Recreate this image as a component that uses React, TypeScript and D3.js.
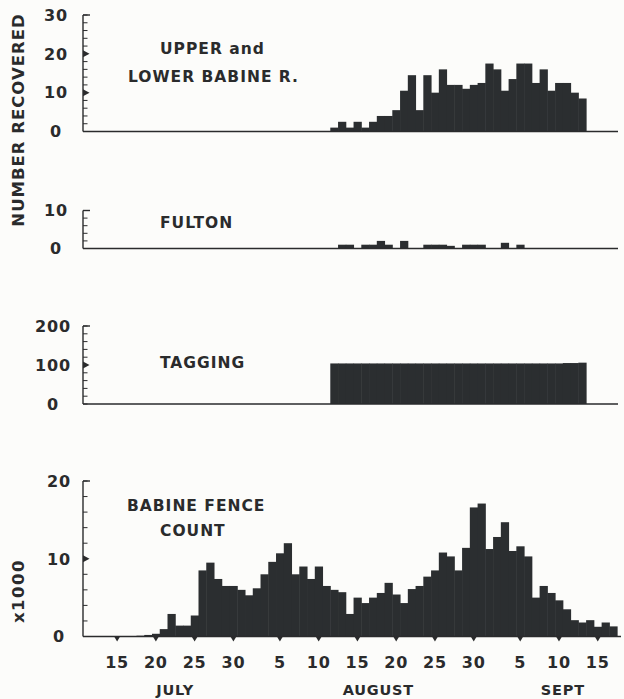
import React from "react";
import * as d3 from "d3";

const width = 624;
const height = 699;

// day numbers: 1 = July 1, 32 = Aug 1, 63 = Sept 1
const recoveryStart = 43; // Aug 12
const upperLowerBabine = [
  1, 2.5, 1, 2.5, 1, 2.5, 4, 4, 5.5, 10.5, 14.5, 5.5, 14.5, 10, 16, 12, 12,
  11, 12, 12.5, 17.5, 16, 10.5, 13.5, 17.5, 17.5, 12.5, 16, 10.5, 12.5, 12.5,
  10, 8.5,
];
const fulton = [
  0, 1, 1, 0, 1, 1, 2, 1, 0, 2, 0, 0, 1, 1, 1, 0.7, 0, 1, 1, 1, 0, 0, 1.5, 0,
  1, 0, 0, 0, 0, 0, 0, 0, 0,
];
const tagging = [
  104, 104, 104, 104, 104, 104, 104, 104, 104, 104, 104, 104, 104, 104, 104,
  104, 104, 104, 104, 104, 104, 104, 104, 104, 104, 104, 104, 104, 104, 104,
  105, 105, 106,
];
const fenceStart = 18; // July 18
const fenceCount = [
  0.1, 0.2, 0.35, 0.95, 2.9, 1.4, 1.4, 2.7, 8.5, 9.5, 7.4, 6.5, 6.5, 6.0, 5.3,
  6.2, 8.0, 9.6, 10.7, 12.0, 8.0, 9.0, 7.4, 9.0, 6.5, 6.0, 5.7, 2.9, 5.0, 4.3,
  5.0, 5.6, 6.9, 5.4, 4.3, 6.1, 6.5, 7.7, 8.5, 10.8, 10.3, 8.5, 11.4, 16.6,
  17.1, 11.25, 12.8, 14.7, 11.0, 11.6, 10.3, 5.0, 6.5, 5.6, 4.65, 3.5, 2.1, 1.8,
  2.1, 1.25, 1.8, 1.3,
];

const dayTicks = [15, 20, 25, 30, 36, 41, 46, 51, 56, 61, 67, 72, 77];
const dayTickLabels = ["15", "20", "25", "30", "5", "10", "15", "20", "25", "30", "5", "10", "15"];
const monthLabels = ["JULY", "AUGUST", "SEPT"];

const ink = "#2a2b2c";
const barFill = "#2b2e30";
const font = "'DejaVu Sans', Verdana, sans-serif";

const x = d3.scaleLinear().domain([10.6, 80]).range([83, 621]);

const panels = [
  {
    values: upperLowerBabine, start: recoveryStart,
    y: d3.scaleLinear().domain([0, 30]).range([131.5, 15]),
    labels: [0, 10, 20, 30], arrows: [10, 20], minor: 2, labelX: 56,
    title: [{ t: "UPPER and", x: 160, y: 48 }, { t: "LOWER BABINE R.", x: 128, y: 76 }],
    axisEnd: 618,
  },
  {
    values: fulton, start: recoveryStart,
    y: d3.scaleLinear().domain([0, 10]).range([248.5, 210.5]),
    labels: [0, 10], arrows: [], minor: 2, labelX: 56,
    title: [{ t: "FULTON", x: 160, y: 222 }],
    axisEnd: 618,
  },
  {
    values: tagging, start: recoveryStart,
    y: d3.scaleLinear().domain([0, 200]).range([404, 326]),
    labels: [0, 100, 200], arrows: [100], minor: 20, labelX: 53,
    title: [{ t: "TAGGING", x: 160, y: 362 }],
    axisEnd: 618,
  },
  {
    values: fenceCount, start: fenceStart,
    y: d3.scaleLinear().domain([0, 20]).range([636.5, 481]),
    labels: [0, 10, 20], arrows: [10], minor: 2, labelX: 59,
    title: [{ t: "BABINE FENCE", x: 127, y: 505 }, { t: "COUNT", x: 160, y: 530 }],
    axisEnd: 621,
  },
];

function Panel({ p }: { p: (typeof panels)[number] }) {
  const y = p.y;
  const [d0, d1] = y.domain();
  const x0 = x.range()[0];
  const minorTicks = d3.range(d0, d1 + 0.001, p.minor);
  return (
    <g>
      {p.values.map((v, i) => {
        if (!v) return null;
        const t = p.start + i;
        const bx = x(t - 0.5);
        return (
          <rect
            key={i}
            x={bx}
            width={x(t + 0.5) - bx + 0.5}
            y={y(v)}
            height={y(0) - y(v)}
            fill={barFill}
          />
        );
      })}
      <line x1={x0} x2={x0} y1={y(d1)} y2={y(0)} stroke={ink} strokeWidth={1.4} />
      <line x1={x0} x2={p.axisEnd} y1={y(0)} y2={y(0)} stroke={ink} strokeWidth={1.6} />
      <line x1={x0} x2={x0 + 7} y1={y(d1)} y2={y(d1)} stroke={ink} strokeWidth={1.4} />
      {minorTicks.map((v) => (
        <line key={v} x1={x0} x2={x0 + 4.5} y1={y(v)} y2={y(v)} stroke={ink} strokeWidth={1} />
      ))}
      {p.arrows.map((v) => (
        <path key={v} d={`M${x0},${y(v) - 3.5}L${x0 + 6.5},${y(v)}L${x0},${y(v) + 3.5}Z`} fill={ink} />
      ))}
      {p.labels.map((v) => (
        <text
          key={v}
          x={p.labelX}
          y={y(v)}
          dy="0.36em"
          textAnchor="middle"
          fontSize={16}
          fontWeight="bold"
          letterSpacing={0.8}
          fill={ink}
        >
          {v}
        </text>
      ))}
      {p.title.map((tt) => (
        <text
          key={tt.t}
          x={tt.x}
          y={tt.y}
          dy="0.36em"
          fontSize={15.5}
          fontWeight="bold"
          letterSpacing={1}
          fill={ink}
        >
          {tt.t}
        </text>
      ))}
    </g>
  );
}

export default function App() {
  const fenceY = panels[3].y;
  const base = fenceY(0);
  const monthCenters = [x(22.5), x(48.7), x(72.5)];
  return (
    <svg
      width={width}
      height={height}
      style={{ position: "absolute", left: 0, top: 0, background: "#fcfcfa" }}
      fontFamily={font}
    >
      {panels.map((p, i) => (
        <Panel key={i} p={p} />
      ))}
      {dayTicks.map((d) => (
        <path
          key={d}
          d={`M${x(d) - 3},${base}L${x(d) + 3},${base}L${x(d)},${base + 5}Z`}
          fill={ink}
        />
      ))}
      {dayTicks.map((d, i) => (
        <text
          key={i}
          x={x(d)}
          y={662}
          dy="0.36em"
          textAnchor="middle"
          fontSize={16}
          fontWeight="bold"
          letterSpacing={0.8}
          fill={ink}
        >
          {dayTickLabels[i]}
        </text>
      ))}
      {monthLabels.map((m, i) => (
        <text
          key={m}
          x={monthCenters[i]}
          y={690}
          dy="0.36em"
          textAnchor="middle"
          fontSize={14.5}
          fontWeight="bold"
          letterSpacing={0.8}
          fill={ink}
        >
          {m}
        </text>
      ))}
      <text
        transform="translate(24,120) rotate(-90)"
        textAnchor="middle"
        fontSize={16.5}
        fontWeight="bold"
        letterSpacing={1}
        fill={ink}
      >
        NUMBER RECOVERED
      </text>
      <text
        transform="translate(24,591) rotate(-90)"
        textAnchor="middle"
        fontSize={16.5}
        fontWeight="bold"
        letterSpacing={1.5}
        fill={ink}
      >
        x1000
      </text>
    </svg>
  );
}
